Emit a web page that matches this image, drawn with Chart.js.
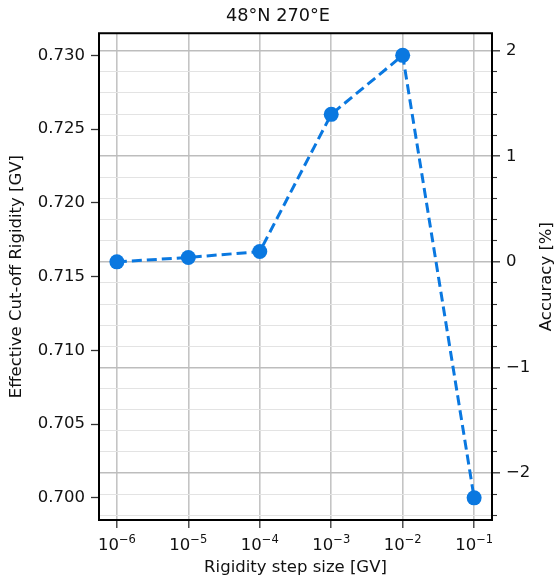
<!DOCTYPE html>
<html>
<head>
<meta charset="utf-8">
<script src="https://cdn.jsdelivr.net/npm/chart.js@4"></script>
<style>
  html, body { margin: 0; padding: 0; background: #fff; }
  #wrap { width: 556px; height: 582px; }
</style>
</head>
<body>
<div id="wrap"><canvas id="grafica"></canvas></div>
<script>
// datos
var pasos = [1e-6, 1e-5, 1e-4, 1e-3, 1e-2, 1e-1];
var exponentes = [-6, -5, -4, -3, -2, -1];
var rigidez = [0.7160, 0.7163, 0.7167, 0.7260, 0.7300, 0.7000];
var rigidezRef = 0.7160;
var ticksIzq = [0.700, 0.705, 0.710, 0.715, 0.720, 0.725, 0.730];
var ticksDerMayor = [-2, -1, 0, 1, 2];
var ticksDerMenor = [-2.4, -2.2, -1.8, -1.6, -1.4, -1.2, -0.8, -0.6, -0.4, -0.2,
                     0.2, 0.4, 0.6, 0.8, 1.2, 1.4, 1.6, 1.8];

var fuente = 'DejaVu Sans';
var azul = '#0a78e0';
var negro = '#111';

var yMin = 0.7, yMax = 0.73;
var margen = (yMax - yMin) * 0.05;
yMin -= margen; yMax += margen;
var accMin = (yMin / rigidezRef - 1) * 100;
var accMax = (yMax / rigidezRef - 1) * 100;

// marco, etiquetas 10^n y titulo del eje derecho
var extras = {
    id: 'extras',
    afterDraw: function(chart) {
        var ctx = chart.ctx, a = chart.chartArea;
        ctx.save();
        ctx.strokeStyle = '#000';
        ctx.lineWidth = 2;
        ctx.strokeRect(a.left, a.top, a.right - a.left, a.bottom - a.top);

        ctx.fillStyle = negro;
        ctx.textBaseline = 'alphabetic';
        ctx.textAlign = 'left';
        var xs = chart.scales.x;
        pasos.forEach(function(p, i) {
            var px = xs.getPixelForValue(p);
            var exp = '\u2212' + Math.abs(exponentes[i]);
            ctx.font = '16.5px "' + fuente + '"';
            var w1 = ctx.measureText('10').width;
            ctx.font = '11.5px "' + fuente + '"';
            var w2 = ctx.measureText(exp).width;
            var x0 = px - (w1 + w2) / 2;
            ctx.font = '16.5px "' + fuente + '"';
            ctx.fillText('10', x0, 550);
            ctx.font = '11.5px "' + fuente + '"';
            ctx.fillText(exp, x0 + w1, 543);
        });

        ctx.font = '16.5px "' + fuente + '"';
        ctx.textAlign = 'center';
        ctx.textBaseline = 'middle';
        ctx.translate(547, (a.top + a.bottom) / 2);
        ctx.rotate(-Math.PI / 2);
        ctx.fillText('Accuracy [%]', 0, 0);
        ctx.restore();
    }
};

var ctx = document.getElementById('grafica').getContext('2d');
new Chart(ctx, {
    type: 'line',
    data: {
        datasets: [{
            label: 'Rigidez',
            data: pasos.map(function(p, i) { return {x: p, y: rigidez[i]}; }),
            borderColor: azul,
            backgroundColor: azul,
            borderWidth: 3,
            borderDash: [10, 5],
            pointRadius: 7.5,
            pointHoverRadius: 7.5,
            pointBorderWidth: 0,
            tension: 0,
            yAxisID: 'y'
        }]
    },
    options: {
        responsive: true,
        maintainAspectRatio: false,
        animation: false,
        layout: { padding: 0 },
        plugins: {
            legend: { display: false },
            tooltip: { enabled: false },
            title: {
                display: true,
                text: '48°N 270°E',
                color: negro,
                font: { family: fuente, size: 17.7, weight: 'normal' },
                padding: { top: 6, bottom: 6 }
            }
        },
        scales: {
            x: {
                type: 'logarithmic',
                min: Math.pow(10, -6.25),
                max: Math.pow(10, -0.75),
                afterBuildTicks: function(scale) {
                    scale.ticks = pasos.map(function(v) { return {value: v}; });
                },
                afterFit: function(scale) { scale.height = 62; },
                ticks: {
                    autoSkip: false,
                    maxRotation: 0,
                    color: negro,
                    font: { family: fuente, size: 16.5 },
                    callback: function() { return ''; }
                },
                grid: { color: '#c4c4c4', lineWidth: 1.6, tickLength: 8, tickColor: '#333', tickWidth: 1.3 },
                border: { display: false },
                title: {
                    display: true,
                    text: 'Rigidity step size [GV]',
                    color: negro,
                    font: { family: fuente, size: 16.5 },
                    padding: { top: 2, bottom: 4 }
                }
            },
            y: {
                position: 'left',
                min: yMin,
                max: yMax,
                afterBuildTicks: function(scale) {
                    scale.ticks = ticksIzq.map(function(v) { return {value: v}; });
                },
                afterFit: function(scale) { scale.width = 99; },
                ticks: {
                    color: negro,
                    padding: 6,
                    font: { family: fuente, size: 16.5 },
                    callback: function(v) { return v.toFixed(3); }
                },
                grid: { drawOnChartArea: false, tickLength: 8, tickColor: '#333', tickWidth: 1.3 },
                border: { display: false },
                title: {
                    display: true,
                    text: 'Effective Cut-off Rigidity [GV]',
                    color: negro,
                    font: { family: fuente, size: 16.5 },
                    padding: { top: 7, bottom: 0 }
                }
            },
            accMenor: {
                position: 'right',
                weight: 0,
                min: accMin,
                max: accMax,
                afterBuildTicks: function(scale) {
                    scale.ticks = ticksDerMenor.map(function(v) { return {value: v}; });
                },
                afterFit: function(scale) { scale.width = 0; },
                ticks: { display: true, autoSkip: false, padding: 0, callback: function() { return ''; } },
                grid: { color: '#e3e3e3', lineWidth: 1, tickLength: 5, tickColor: '#333', tickWidth: 1.1 },
                border: { display: false }
            },
            acc: {
                position: 'right',
                weight: 1,
                min: accMin,
                max: accMax,
                afterBuildTicks: function(scale) {
                    scale.ticks = ticksDerMayor.map(function(v) { return {value: v}; });
                },
                afterFit: function(scale) { scale.width = 64; },
                ticks: {
                    autoSkip: false,
                    color: negro,
                    padding: 6,
                    font: { family: fuente, size: 16.5 },
                    callback: function(v) {
                        return v < 0 ? '\u2212' + Math.abs(v) : String(v);
                    }
                },
                grid: { color: '#bdbdbd', lineWidth: 1.6, tickLength: 8, tickColor: '#333', tickWidth: 1.3 },
                border: { display: false }
            }
        }
    },
    plugins: [extras]
});
</script>
</body>
</html>
